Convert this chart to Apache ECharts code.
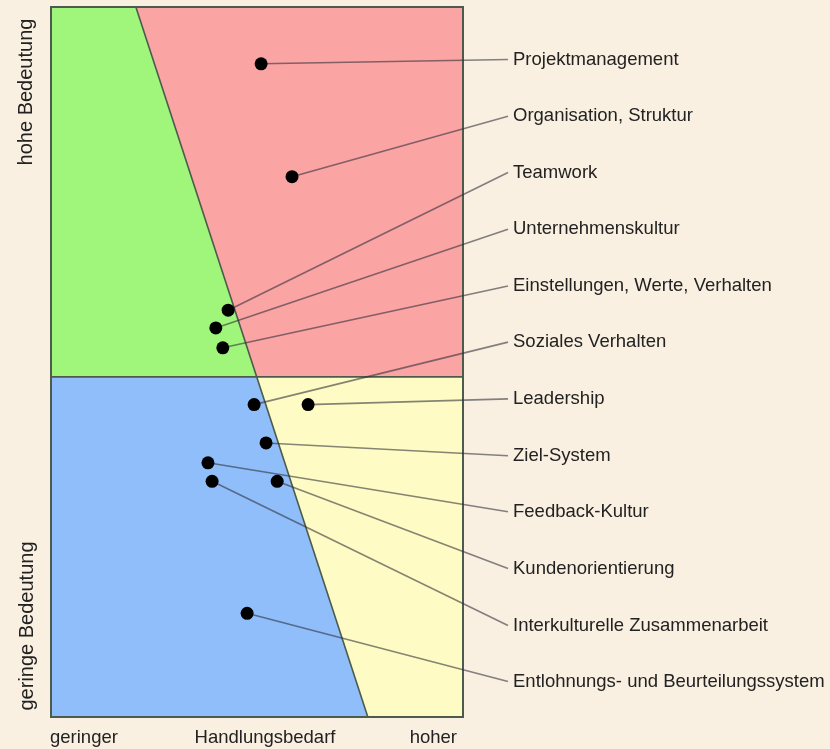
<!DOCTYPE html>
<html>
<head>
<meta charset="utf-8">
<script src="https://cdn.jsdelivr.net/npm/echarts@6/dist/echarts.min.js"></script>
<style>
  html, body { margin: 0; padding: 0; background: #f9f0e1; }
  #chart { width: 830px; height: 749px; }
</style>
</head>
<body>
<div id="chart"></div>
<script>
// ---- Data ----
const categories = [
  'Projektmanagement',
  'Organisation, Struktur',
  'Teamwork',
  'Unternehmenskultur',
  'Einstellungen, Werte, Verhalten',
  'Soziales Verhalten',
  'Leadership',
  'Ziel-System',
  'Feedback-Kultur',
  'Kundenorientierung',
  'Interkulturelle Zusammenarbeit',
  'Entlohnungs- und Beurteilungssystem'
];
// Handlungsbedarf (x, 0..100) and Bedeutung (y, 0..100) of each item
const needX       = [51.0, 58.5, 43.0, 40.0, 41.7, 49.3, 62.4, 52.2, 38.1, 54.9, 39.1, 47.6];
const importanceY = [92.0, 76.1, 57.3, 54.8, 52.0, 44.0, 44.0, 38.6, 35.8, 33.2, 33.2, 14.6];
// vertical position of each label (same y scale)
const labelY      = [92.6, 84.6, 76.7, 68.7, 60.7, 52.8, 44.8, 36.8, 28.9, 20.9, 12.9, 5.0];
// quadrant boundaries
const dividerY    = 47.9;
const diagTopX    = 20.6;
const diagBottomX = 76.9;
// axis texts
const xAxisTexts = ['geringer', 'Handlungsbedarf', 'hoher'];
const yAxisTexts = ['hohe Bedeutung', 'geringe Bedeutung'];

// ---- Styles ----
const regionColors = ['#9ff67b', '#faa4a4', '#8fbefa', '#fefcc4'];
const edgeColor = '#4d5b4c';
const FONT = '"Liberation Sans", Arial, sans-serif';
const TEXT_COLOR = '#222222';

const chart = echarts.init(document.getElementById('chart'));

const midX = diagTopX + (diagBottomX - diagTopX) * (100 - dividerY) / 100;
const regions = [
  [[0, 100], [diagTopX, 100], [midX, dividerY], [0, dividerY]],
  [[diagTopX, 100], [100, 100], [100, dividerY], [midX, dividerY]],
  [[0, dividerY], [midX, dividerY], [diagBottomX, 0], [0, 0]],
  [[midX, dividerY], [100, dividerY], [100, 0], [diagBottomX, 0]]
];

const itemData = categories.map((c, i) => [needX[i], importanceY[i], labelY[i]]);

chart.setOption({
  backgroundColor: '#f9f0e1',
  animation: false,
  grid: { left: 51, top: 7, width: 412, height: 710 },
  xAxis: { type: 'value', min: 0, max: 100, show: false },
  yAxis: { type: 'value', min: 0, max: 100, show: false },
  series: [
    {
      type: 'custom',
      z: 1,
      silent: true,
      data: [0],
      renderItem: function (params, api) {
        const children = regions.map((poly, k) => ({
          type: 'polygon',
          shape: { points: poly.map(p => api.coord(p)) },
          style: { fill: regionColors[k] }
        }));
        const a = api.coord([0, dividerY]), b = api.coord([100, dividerY]);
        children.push({ type: 'line', shape: { x1: a[0], y1: a[1], x2: b[0], y2: b[1] },
          style: { stroke: edgeColor, lineWidth: 1.6 } });
        const c = api.coord([diagTopX, 100]), d = api.coord([diagBottomX, 0]);
        children.push({ type: 'line', shape: { x1: c[0], y1: c[1], x2: d[0], y2: d[1] },
          style: { stroke: edgeColor, lineWidth: 1.6 } });
        const tl = api.coord([0, 100]), br = api.coord([100, 0]);
        children.push({ type: 'rect', shape: { x: tl[0], y: tl[1], width: br[0] - tl[0], height: br[1] - tl[1] },
          style: { fill: 'none', stroke: edgeColor, lineWidth: 2 } });
        return { type: 'group', children: children };
      }
    },
    {
      type: 'custom',
      z: 2,
      silent: true,
      clip: false,
      data: itemData,
      renderItem: function (params, api) {
        const i = params.dataIndex;
        const p = api.coord([api.value(0), api.value(1)]);
        const e = api.coord([100, api.value(2)]);
        const ex = e[0] + 45;
        return {
          type: 'group',
          children: [
            { type: 'line', shape: { x1: p[0], y1: p[1], x2: ex, y2: e[1] },
              style: { stroke: 'rgba(45,45,55,0.58)', lineWidth: 1.6 } },
            { type: 'text', style: { text: categories[i], x: ex + 5, y: e[1],
              verticalAlign: 'middle', align: 'left', font: '18.5px ' + FONT, fill: TEXT_COLOR } }
          ]
        };
      }
    },
    {
      type: 'scatter',
      z: 3,
      silent: true,
      symbolSize: 13,
      itemStyle: { color: '#000000', opacity: 1 },
      data: itemData.map(d => [d[0], d[1]])
    }
  ],
  graphic: [
    { type: 'text', x: 50, y: 738, style: { text: xAxisTexts[0], align: 'left', verticalAlign: 'middle', font: '18.5px ' + FONT, fill: TEXT_COLOR } },
    { type: 'text', x: 265, y: 738, style: { text: xAxisTexts[1], align: 'center', verticalAlign: 'middle', font: '18.5px ' + FONT, fill: TEXT_COLOR } },
    { type: 'text', x: 457, y: 738, style: { text: xAxisTexts[2], align: 'right', verticalAlign: 'middle', font: '18.5px ' + FONT, fill: TEXT_COLOR } },
    { type: 'text', x: 26, y: 92, rotation: Math.PI / 2, style: { text: yAxisTexts[0], align: 'center', verticalAlign: 'middle', font: '20px ' + FONT, fill: TEXT_COLOR } },
    { type: 'text', x: 27, y: 626, rotation: Math.PI / 2, style: { text: yAxisTexts[1], align: 'center', verticalAlign: 'middle', font: '20px ' + FONT, fill: TEXT_COLOR } }
  ]
});
</script>
</body>
</html>
